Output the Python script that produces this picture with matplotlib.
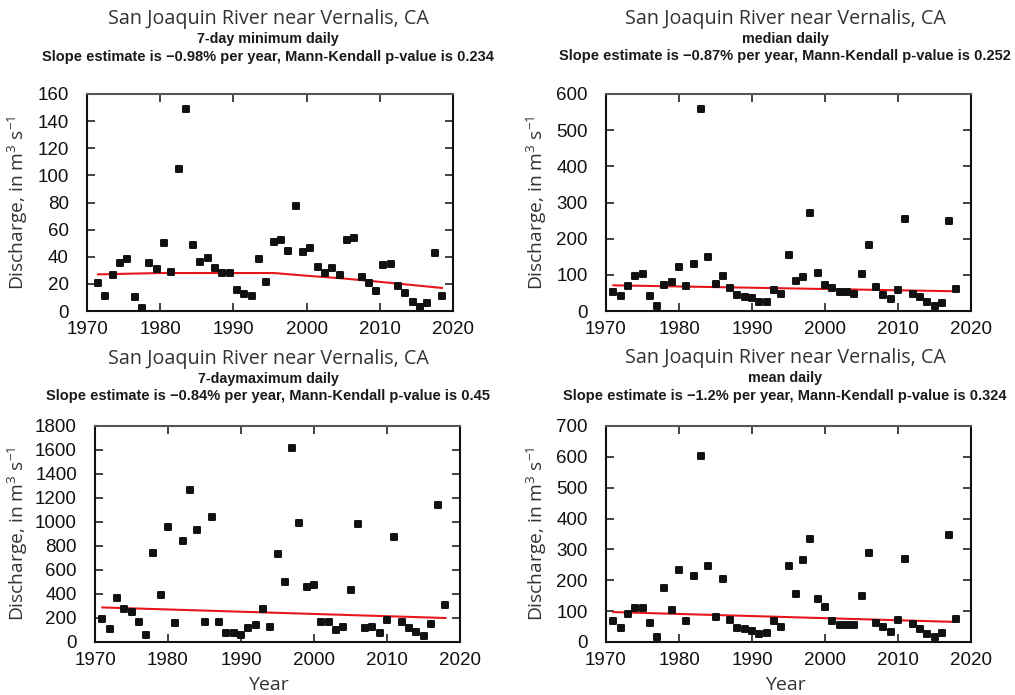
import numpy as np
import matplotlib
matplotlib.use("Agg")
import matplotlib.pyplot as plt
from matplotlib.markers import MarkerStyle

# years of record
years = np.arange(1971, 2019)

# 7-day minimum (plotted at mid-year)
min7 = [20.7, 11.3, 26.9, 35.7, 38.0, 10.6, 2.0, 35.7, 31.0, 49.8, 29.0, 105.0,
        149.0, 48.3, 36.2, 39.4, 32.0, 28.0, 27.9, 15.8, 12.3, 11.1, 38.7, 21.2,
        50.8, 52.0, 44.4, 77.4, 43.4, 46.1, 32.5, 28.1, 32.0, 26.4, 52.5, 53.5,
        25.4, 21.0, 14.5, 33.8, 34.5, 18.7, 13.1, 6.4, 2.7, 5.7, 43.1, 11.3]
min7_trend_x = [1971.5, 1980, 1990, 1995.5, 2000, 2005, 2010, 2018.5]
min7_trend_y = [27.0, 28.0, 28.0, 28.0, 26.0, 24.0, 21.5, 17.0]

median = [52.7, 40.7, 69.3, 98, 103.5, 42.5, 13, 73, 80.4, 121, 69.3, 131,
          558, 149, 75.8, 96, 64.7, 43.5, 38, 37, 24, 25.9, 59, 46,
          155, 83, 95, 271, 106, 71, 64, 52.7, 52.7, 46, 102, 183,
          66.6, 43.5, 33, 57, 253, 48, 40, 24, 13, 22, 249, 60]
median_trend_x = [1971, 2018]
median_trend_y = [71, 54.5]

max7 = [191, 111, 366, 277, 250, 164, 58, 743, 388, 957, 161, 840,
        1267, 932, 164, 1040, 169, 78, 75, 58, 114, 144, 272, 125,
        735, 499, 1617, 993, 455, 474, 169, 169, 100, 128, 435, 982,
        119, 128, 75, 180, 874, 166, 119, 86, 53, 150, 1140, 311]
max7_trend_x = [1971, 2018]
max7_trend_y = [288, 200]

mean = [69, 44, 92, 109, 111, 60, 17, 176, 104, 234, 69, 215,
        604, 247, 82, 205, 71, 46, 42, 36, 27, 28, 67, 49,
        247, 154, 265, 333, 140, 112, 69, 55, 54, 54, 149, 288,
        61, 50, 33, 72, 268, 58, 43, 26, 17, 29, 347, 76]
mean_trend_x = [1971, 2018]
mean_trend_y = [97, 65]

subtitles = ["7-day minimum daily", "median daily", "7-daymaximum daily", "mean daily"]
slopes = ["\u22120.98", "\u22120.87", "\u22120.84", "\u22121.2"]
pvalues = ["0.234", "0.252", "0.45", "0.324"]
ymax = [160, 600, 1800, 700]
ystep = [20, 100, 200, 100]

W, H = 1015, 695
fig = plt.figure(figsize=(W / 100, H / 100), dpi=100)

# axes boxes in pixels: left, top, right, bottom
boxes = [(87, 94, 453, 311), (606, 94, 971, 311),
         (95, 426, 460, 642), (606, 426, 971, 642)]
title_x = [268, 785, 268, 785]
title_y = [[19, 39, 57], [19, 39, 56], [359, 379, 396], [358, 378, 396]]
ylabel_x = [30, 549, 30, 549]

series = [(years + 0.5, min7, min7_trend_x, min7_trend_y),
          (years, median, median_trend_x, median_trend_y),
          (years, max7, max7_trend_x, max7_trend_y),
          (years, mean, mean_trend_x, mean_trend_y)]

mk = MarkerStyle("s", joinstyle="round")

for i, (x, y, tx, ty) in enumerate(series):
    l, t, r, b = boxes[i]
    ax = fig.add_axes([l / W, 1 - b / H, (r - l) / W, (b - t) / H])
    ax.plot(tx, ty, color="#e8161c", lw=1.5, zorder=2)
    ax.plot(x, y, ls="none", marker=mk, ms=4.6, color="#111111",
            mec="#111111", mew=1.4, zorder=3)
    ax.set_xlim(1970, 2020)
    ax.set_ylim(0, ymax[i])
    ax.set_xticks(range(1970, 2021, 10))
    ax.set_yticks(range(0, ymax[i] + 1, ystep[i]))
    ax.tick_params(direction="in", length=6, width=1.2, top=True, right=True,
                   labelsize=13.5, color="#222222")
    ax.tick_params(axis="x", pad=7)
    ax.tick_params(axis="y", pad=13)
    for lab in ax.get_xticklabels() + ax.get_yticklabels():
        lab.set_family("Liberation Sans")
        lab.set_color("#111111")
    for s in ax.spines.values():
        s.set_linewidth(1.5)
        s.set_color("#111111")
    ax.spines["top"].set_color("#555555")

    ax.set_ylabel("Discharge, in m$^{\\mathregular{3}}$ s$^{\\mathregular{-1}}$",
                  family="Open Sans", fontsize=13.8, color="#333333")
    ax.yaxis.set_label_coords(ylabel_x[i] / W, 1 - (t + b) / 2 / H,
                              transform=fig.transFigure)
    if i >= 2:
        fig.text(title_x[i] / W, 1 - 685 / H, "Year", ha="center", va="center",
                 family="Open Sans", fontsize=14, color="#333333")

    fig.text(title_x[i] / W, 1 - title_y[i][0] / H, "San Joaquin River near Vernalis, CA",
             ha="center", va="center", family="Open Sans", fontsize=14.2, color="#333333")
    fig.text(title_x[i] / W, 1 - title_y[i][1] / H, subtitles[i],
             ha="center", va="center", family="Liberation Sans", fontweight="bold",
             fontsize=10.3, color="#1a1a1a")
    fig.text(title_x[i] / W, 1 - title_y[i][2] / H,
             "Slope estimate is " + slopes[i] + "% per year, Mann-Kendall p-value is " + pvalues[i],
             ha="center", va="center", family="Liberation Sans", fontweight="bold",
             fontsize=10.5, color="#1a1a1a")

fig.savefig("out.png", dpi=100)
